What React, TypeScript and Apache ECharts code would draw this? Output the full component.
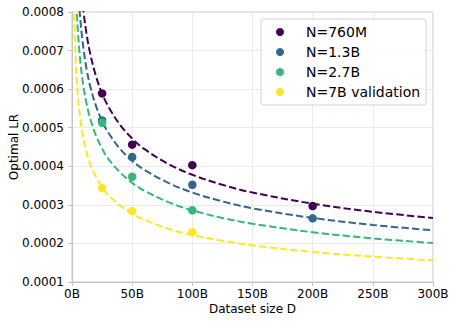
import React, { useEffect, useRef } from "react";
import * as echarts from "echarts";

// Observed optimal LR points (dataset size D in billions of tokens)
const sizesD = [25, 50, 100, 200];
const lr760M = [0.000589, 0.000456, 0.000403, 0.000297];
const lr1_3B = [0.000519, 0.000424, 0.000352, 0.000265];
const sizesD3 = [25, 50, 100];
const lr2_7B = [0.000513, 0.000373, 0.000286];
const lr7B = [0.000344, 0.000284, 0.000229];

// Fitted curves at these D values
const fitD = [1.5, 2, 3, 4, 5, 6, 7, 8, 10, 12, 15, 20, 25, 30, 40, 50, 60, 80, 100, 125, 150, 200, 250, 300];
const fit760M = [0.001449, 0.001322, 0.001161, 0.001059, 0.000986, 0.00093, 0.000885, 0.000848, 0.00079, 0.000745, 0.000694, 0.000633, 0.000589, 0.000556, 0.000507, 0.000472, 0.000445, 0.000406, 0.000378, 0.000352, 0.000332, 0.000303, 0.000282, 0.000266];
const fit1_3B = [0.001273, 0.001161, 0.00102, 0.00093, 0.000866, 0.000817, 0.000778, 0.000745, 0.000694, 0.000654, 0.000609, 0.000556, 0.000517, 0.000488, 0.000445, 0.000414, 0.000391, 0.000357, 0.000332, 0.000309, 0.000291, 0.000266, 0.000248, 0.000234];
const fit2_7B = [0.001097, 0.001, 0.000878, 0.000801, 0.000746, 0.000704, 0.00067, 0.000642, 0.000597, 0.000564, 0.000525, 0.000479, 0.000446, 0.00042, 0.000384, 0.000357, 0.000337, 0.000307, 0.000286, 0.000266, 0.000251, 0.000229, 0.000213, 0.000201];
const fit7B = [0.000851, 0.000776, 0.000682, 0.000622, 0.000579, 0.000546, 0.00052, 0.000498, 0.000464, 0.000438, 0.000407, 0.000372, 0.000346, 0.000326, 0.000298, 0.000277, 0.000262, 0.000238, 0.000222, 0.000207, 0.000195, 0.000178, 0.000166, 0.000156];

const names = ["N=760M", "N=1.3B", "N=2.7B", "N=7B validation"];
const colors = ["#440154", "#31688e", "#35b779", "#fde725"];

export default function App() {
  const ref = useRef<HTMLDivElement>(null);
  useEffect(() => {
    if (!ref.current) return;
    const chart = echarts.init(ref.current, undefined, { renderer: "svg" });
    const pts = [
      sizesD.map((d, i) => [d, lr760M[i]]),
      sizesD.map((d, i) => [d, lr1_3B[i]]),
      sizesD3.map((d, i) => [d, lr2_7B[i]]),
      sizesD3.map((d, i) => [d, lr7B[i]]),
    ];
    const fits = [fit760M, fit1_3B, fit2_7B, fit7B];
    const axisColor = "#c4c4c4";
    const series: any[] = [];
    fits.forEach((f, k) => {
      series.push({
        type: "line",
        name: "fit " + names[k],
        data: fitD.map((d, i) => [d, f[i]]),
        smooth: 0.35,
        showSymbol: false,
        silent: true,
        clip: true,
        z: 2,
        lineStyle: { color: colors[k], width: 2, type: [7.4, 3.2] },
      });
    });
    pts.forEach((p, k) => {
      series.push({
        type: "scatter",
        name: names[k],
        data: p,
        symbolSize: 8.5,
        z: 3,
        itemStyle: { color: colors[k], opacity: 1 },
      });
    });
    chart.setOption({
      animation: false,
      backgroundColor: "#ffffff",
      textStyle: { fontFamily: "DejaVu Sans" },
      grid: {
        left: 72,
        right: 24,
        top: 12,
        bottom: 41,
        outerBoundsMode: "none",
        containLabel: false,
        show: true,
        borderColor: axisColor,
        borderWidth: 1,
        backgroundColor: "transparent",
      },
      legend: {
        data: names,
        orient: "vertical",
        left: 261,
        top: 19,
        padding: [5, 6, 5, 15],
        itemWidth: 8,
        itemHeight: 8,
        itemGap: 4,
        icon: "circle",
        backgroundColor: "rgba(255,255,255,0.8)",
        borderColor: "#d4d4d4",
        borderWidth: 1,
        borderRadius: 3,
        textStyle: { fontSize: 14, color: "#000", padding: [0, 0, 0, 17], lineHeight: 16, fontFamily: "DejaVu Sans" },
      },
      xAxis: {
        type: "value",
        min: 0,
        max: 300,
        interval: 50,
        name: "Dataset size D",
        nameLocation: "middle",
        nameGap: 21,
        nameMoveOverlap: false,
        nameTextStyle: { fontSize: 12, color: "#000" },
        axisLine: { show: true, lineStyle: { color: axisColor } },
        axisTick: { show: true, length: 4, lineStyle: { color: axisColor } },
        axisLabel: { fontSize: 12, color: "#000", margin: 6, formatter: (v: number) => `${v}B` },
        splitLine: { show: true, lineStyle: { color: "#ebebeb" } },
      },
      yAxis: {
        type: "value",
        min: 0.0001,
        max: 0.0008,
        interval: 0.0001,
        name: "Optimal LR",
        nameLocation: "middle",
        nameGap: 52,
        nameMoveOverlap: false,
        nameTextStyle: { fontSize: 12, color: "#000" },
        axisLine: { show: true, lineStyle: { color: axisColor } },
        axisTick: { show: true, length: 4, lineStyle: { color: axisColor } },
        axisLabel: { fontSize: 12, color: "#000", margin: 8, formatter: (v: number) => v.toFixed(4) },
        splitLine: { show: true, lineStyle: { color: "#ebebeb" } },
      },
      series,
    });
    return () => chart.dispose();
  }, []);
  return (
    <div
      ref={ref}
      style={{ position: "fixed", left: 0, top: 0, width: 457, height: 323 }}
    />
  );
}
